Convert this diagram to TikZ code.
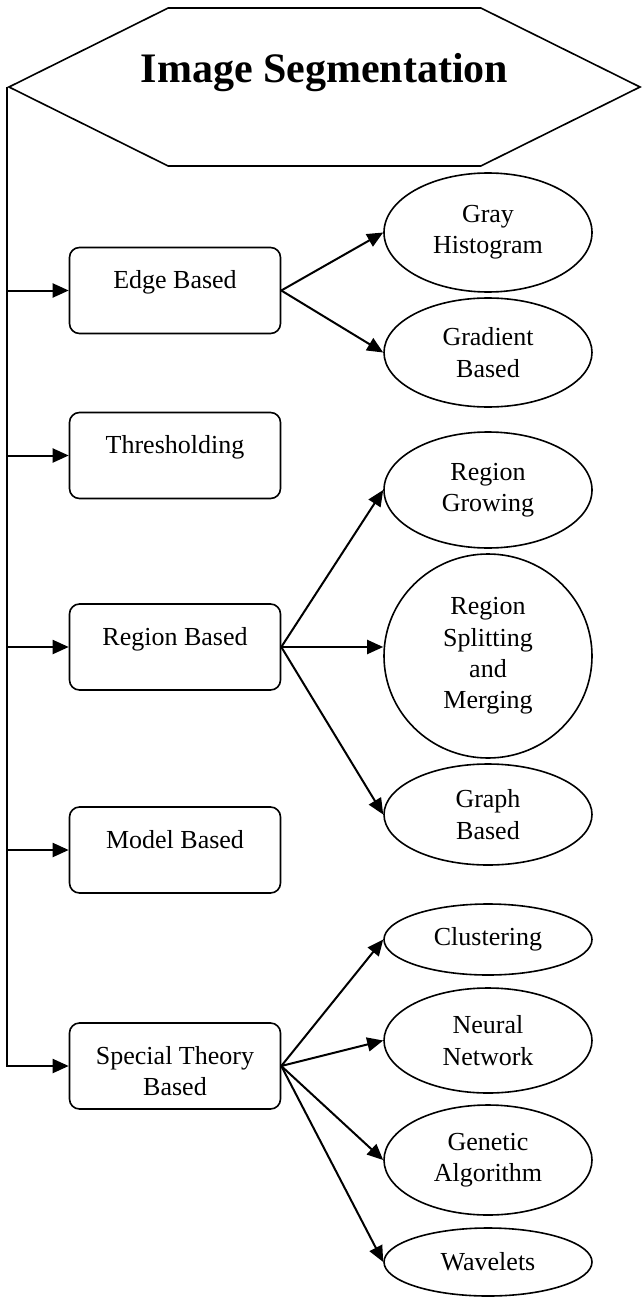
\documentclass[tikz,border=0pt]{standalone}
\usepackage{fontspec}
\setmainfont{Liberation Serif}
\usetikzlibrary{arrows.meta,shapes.geometric,shapes.symbols}

\begin{document}
\begin{tikzpicture}[->,line width=2pt,>={Triangle[length=16pt,width=14pt]},x=1pt,y=-1pt]
    \tikzstyle{every node}=[font=\fontsize{26}{31.3}\selectfont]
    \tikzstyle{hexa}=[draw, signal, signal to=east and west, signal pointer angle=52.8, minimum width=631pt, minimum height=158pt, inner sep=0pt, line width=1.6pt]
    \tikzstyle{head}=[font=\fontsize{42}{50}\selectfont\bfseries, anchor=base, inner sep=0pt]
    \tikzstyle{box}=[draw, rounded corners=10pt, minimum width=211pt, minimum height=86pt, line width=1.6pt]
    \tikzstyle{boxtext}=[anchor=north, inner sep=0pt, yshift=-23pt, align=center]
    \tikzstyle{leaf}=[draw, ellipse, minimum width=208pt, align=center, inner sep=0pt, line width=1.6pt]

    \useasboundingbox (0,0) rectangle (641,1297);

    % title
    \node[hexa] (t)  at (324.5,87) {};
    \node[head] (tt) at (324.5,83) {Image Segmentation};

    % methods
    \node[box, label={[boxtext]north:Edge Based}]    (eb) at (175,290.5) {};
    \node[box, label={[boxtext]north:Thresholding}]  (th) at (175,455.5) {};
    \node[box, label={[boxtext]north:Region Based}]  (rb) at (175,647)   {};
    \node[box, label={[boxtext]north:Model Based}]   (mb) at (175,850)   {};
    \node[box, label={[boxtext]north:Special Theory\\Based}] (st) at (175,1066) {};

    % sub methods
    \node[leaf, minimum height=119pt] (gh) at (488,232.5) {Gray\\Histogram};
    \node[leaf, minimum height=109pt] (gb) at (488,352.5) {Gradient\\Based};
    \node[leaf, minimum height=116pt] (rg) at (488,490)   {Region\\Growing};
    \node[leaf, minimum height=204pt] (rs) at (488,656)   {Region\\Splitting\\and\\Merging};
    \node[leaf, minimum height=101pt] (gr) at (488,814.5) {Graph\\Based};
    \node[leaf, minimum height=71pt]  (cl) at (488,939.5) {Clustering};
    \node[leaf, minimum height=105pt] (nn) at (488,1040.5) {Neural\\Network};
    \node[leaf, minimum height=110pt] (ga) at (488,1160)  {Genetic\\Algorithm};
    \node[leaf, minimum height=68pt]  (wv) at (488,1262)  {Wavelets};

    \draw (t.west) |- (st.west);
    \path
     (t.west |- eb.west) edge (eb.west)
     (t.west |- th.west) edge (th.west)
     (t.west |- rb.west) edge (rb.west)
     (t.west |- mb.west) edge (mb.west)
     (eb.east) edge (gh.west)
     (eb.east) edge (gb.west)
     (rb.east) edge (rg.west)
     (rb.east) edge (rs.west |- rb.east)
     (rb.east) edge (gr.west)
     (st.east) edge (cl.west)
     (st.east) edge (nn.west)
     (st.east) edge (ga.west)
     (st.east) edge (wv.west)
     ;
\end{tikzpicture}
\end{document}
